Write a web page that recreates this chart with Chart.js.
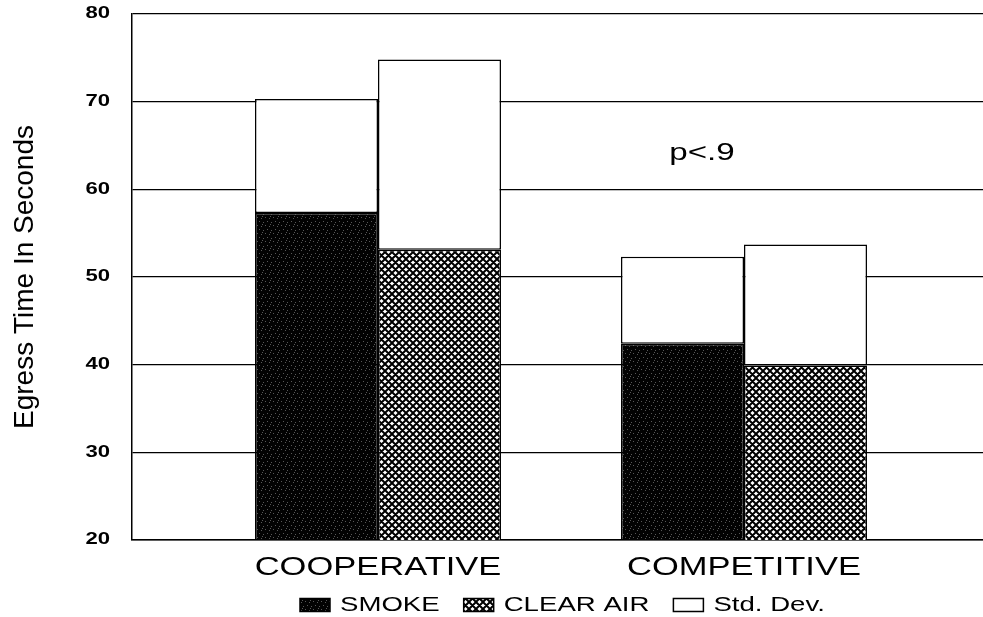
<!DOCTYPE html>
<html><head><meta charset="utf-8">
<script src="https://cdn.jsdelivr.net/npm/chart.js@4.4.1/dist/chart.umd.min.js"></script>
<style>html,body{margin:0;padding:0;background:#fff;}#wrap{width:983px;height:617px;}</style>
</head><body><div id="wrap"><canvas id="c" width="983" height="617"></canvas></div>
<script>
// ---- data ----
const categories = ['COOPERATIVE', 'COMPETITIVE'];
const smokeMeans = [57.3, 42.4];
const clearAirMeans = [53.1, 39.9];
const smokeStdDev = [13.0, 9.9];
const clearAirStdDev = [21.7, 13.8];
const yTicks = [20, 30, 40, 50, 60, 70, 80];
const seriesLabels = ['SMOKE', 'CLEAR AIR', 'Std. Dev.'];
const yTitle = 'Egress Time In Seconds';
const noteText = 'p<.9';

// ---- styling / layout constants ----
const FONT = "'Liberation Sans', Arial, Helvetica, sans-serif";
const STRETCH = 1.38;            // scanned original is horizontally stretched
const X_MIN = -0.6721, X_MAX = 1.653;
const NOTE_POS = {x: 0.885, y: 63.4};
const LEGEND_POS = {left: 276, top: 571};

function makeSmokePattern() {
  const c = document.createElement('canvas'); c.width = 8; c.height = 8;
  const g = c.getContext('2d');
  g.fillStyle = '#020202'; g.fillRect(0, 0, 8, 8);
  g.fillStyle = 'rgba(190,190,190,0.45)';
  [[1,1],[5,2],[3,5],[7,6],[6,0]].forEach(([x,y]) => g.fillRect(x, y, 1, 1));
  return g.createPattern(c, 'repeat');
}
function makeHatchPattern() {
  const s = 7;
  const c = document.createElement('canvas'); c.width = s; c.height = s;
  const g = c.getContext('2d');
  g.fillStyle = '#fff'; g.fillRect(0, 0, s, s);
  g.strokeStyle = '#000'; g.lineWidth = 2.0;
  g.beginPath();
  for (let k = -1; k <= 1; k++) {
    g.moveTo(k * s, 0); g.lineTo(k * s + s, s);
    g.moveTo(k * s + s, 0); g.lineTo(k * s, s);
  }
  g.stroke();
  return g.createPattern(c, 'repeat');
}

const smokeFill = makeSmokePattern();
const hatchFill = makeHatchPattern();

const toPoints = arr => arr.map((v, i) => ({x: i, y: v}));

function isUpright(ctx) {
  const t = ctx.getTransform();
  return Math.abs(t.b) < 1e-6 && Math.abs(t.c) < 1e-6;
}

const textStretch = {
  id: 'textStretch',
  beforeInit(chart) {
    const ctx = chart.ctx;
    const fill = ctx.fillText;
    const measure = ctx.measureText;
    ctx.fillText = function (text, x, y, maxWidth) {
      if (!isUpright(this)) {
        return maxWidth === undefined ? fill.call(this, text, x, y) : fill.call(this, text, x, y, maxWidth);
      }
      this.save();
      this.translate(x, y);
      this.scale(STRETCH, 1);
      if (maxWidth === undefined) fill.call(this, text, 0, 0);
      else fill.call(this, text, 0, 0, maxWidth / STRETCH);
      this.restore();
    };
    ctx.measureText = function (text) {
      const m = measure.call(this, text);
      if (!isUpright(this)) return m;
      return {
        width: m.width * STRETCH,
        actualBoundingBoxLeft: m.actualBoundingBoxLeft * STRETCH,
        actualBoundingBoxRight: m.actualBoundingBoxRight * STRETCH,
        actualBoundingBoxAscent: m.actualBoundingBoxAscent,
        actualBoundingBoxDescent: m.actualBoundingBoxDescent,
        fontBoundingBoxAscent: m.fontBoundingBoxAscent,
        fontBoundingBoxDescent: m.fontBoundingBoxDescent
      };
    };
  },
  beforeDraw(chart) {
    const lg = chart.legend;
    if (lg) {
      const h = lg.height;
      lg.left = LEGEND_POS.left;
      lg.right = chart.width;
      lg.top = LEGEND_POS.top;
      lg.bottom = LEGEND_POS.top + h;
    }
    // let the category labels extend below the (thin) x-axis box without clipping
    chart.scales.x.bottom = chart.height;
  },
  afterDatasetsDraw(chart) {
    const {ctx, scales: {x, y}} = chart;
    ctx.save();
    ctx.font = '24px ' + FONT;
    ctx.fillStyle = '#000';
    ctx.textAlign = 'center';
    ctx.textBaseline = 'alphabetic';
    ctx.fillText(noteText, x.getPixelForValue(NOTE_POS.x), y.getPixelForValue(NOTE_POS.y));
    ctx.restore();
  }
};

const barCommon = {
  borderColor: '#000',
  borderWidth: 1.5,
  borderSkipped: false,
  barPercentage: 1.0,
  categoryPercentage: 0.6721
};

new Chart(document.getElementById('c'), {
  type: 'bar',
  data: {
    datasets: [
      Object.assign({label: seriesLabels[0], data: toPoints(smokeMeans), backgroundColor: smokeFill, stack: 'smoke'}, barCommon),
      Object.assign({label: seriesLabels[1], data: toPoints(clearAirMeans), backgroundColor: hatchFill, stack: 'clear'}, barCommon),
      Object.assign({label: seriesLabels[2], data: toPoints(smokeStdDev), backgroundColor: '#fff', stack: 'smoke'}, barCommon),
      Object.assign({label: seriesLabels[2] + ' ', data: toPoints(clearAirStdDev), backgroundColor: '#fff', stack: 'clear'}, barCommon)
    ]
  },
  options: {
    responsive: false,
    animation: false,
    devicePixelRatio: 1,
    layout: {padding: {top: 14, left: 0, right: 0, bottom: 0}},
    scales: {
      x: {
        type: 'linear',
        min: X_MIN,
        max: X_MAX,
        offset: false,
        afterBuildTicks(scale) { scale.ticks = categories.map((c, i) => ({value: i})); },
        afterFit(scale) { scale.height = 23; scale.paddingLeft = 0; scale.paddingRight = 0; },
        grid: {display: false, offset: false, drawTicks: false},
        border: {display: true, color: '#000', width: 1.5},
        ticks: {
          autoSkip: false, maxRotation: 0, minRotation: 0, padding: 13,
          color: '#000', font: {family: FONT, size: 25},
          callback: (v) => categories[v] !== undefined ? categories[v] : ''
        }
      },
      y: {
        type: 'linear',
        stacked: true,
        min: 20, max: 80,
        z: 1,
        afterBuildTicks(scale) { scale.ticks = yTicks.map(v => ({value: v})); },
        afterFit(scale) { scale.width = 132; scale.paddingTop = 0; scale.paddingBottom = 0; },
        grid: {color: '#000', lineWidth: 1.3, drawTicks: false},
        border: {display: true, color: '#000', width: 1.5},
        ticks: {padding: 22, color: '#000', font: {family: FONT, size: 16, weight: 'bold'}},
        title: {display: true, text: yTitle, color: '#000', font: {family: FONT, size: 28}, padding: {top: 8, bottom: 0}}
      }
    },
    plugins: {
      legend: {
        display: true,
        position: 'bottom',
        align: 'start',
        labels: {
          color: '#000',
          font: {family: FONT, size: 20},
          boxWidth: 30,
          boxHeight: 13,
          padding: 24,
          filter: (item) => item.text !== seriesLabels[2] + ' '
        }
      },
      tooltip: {enabled: false}
    }
  },
  plugins: [textStretch]
});
</script>
</body></html>
